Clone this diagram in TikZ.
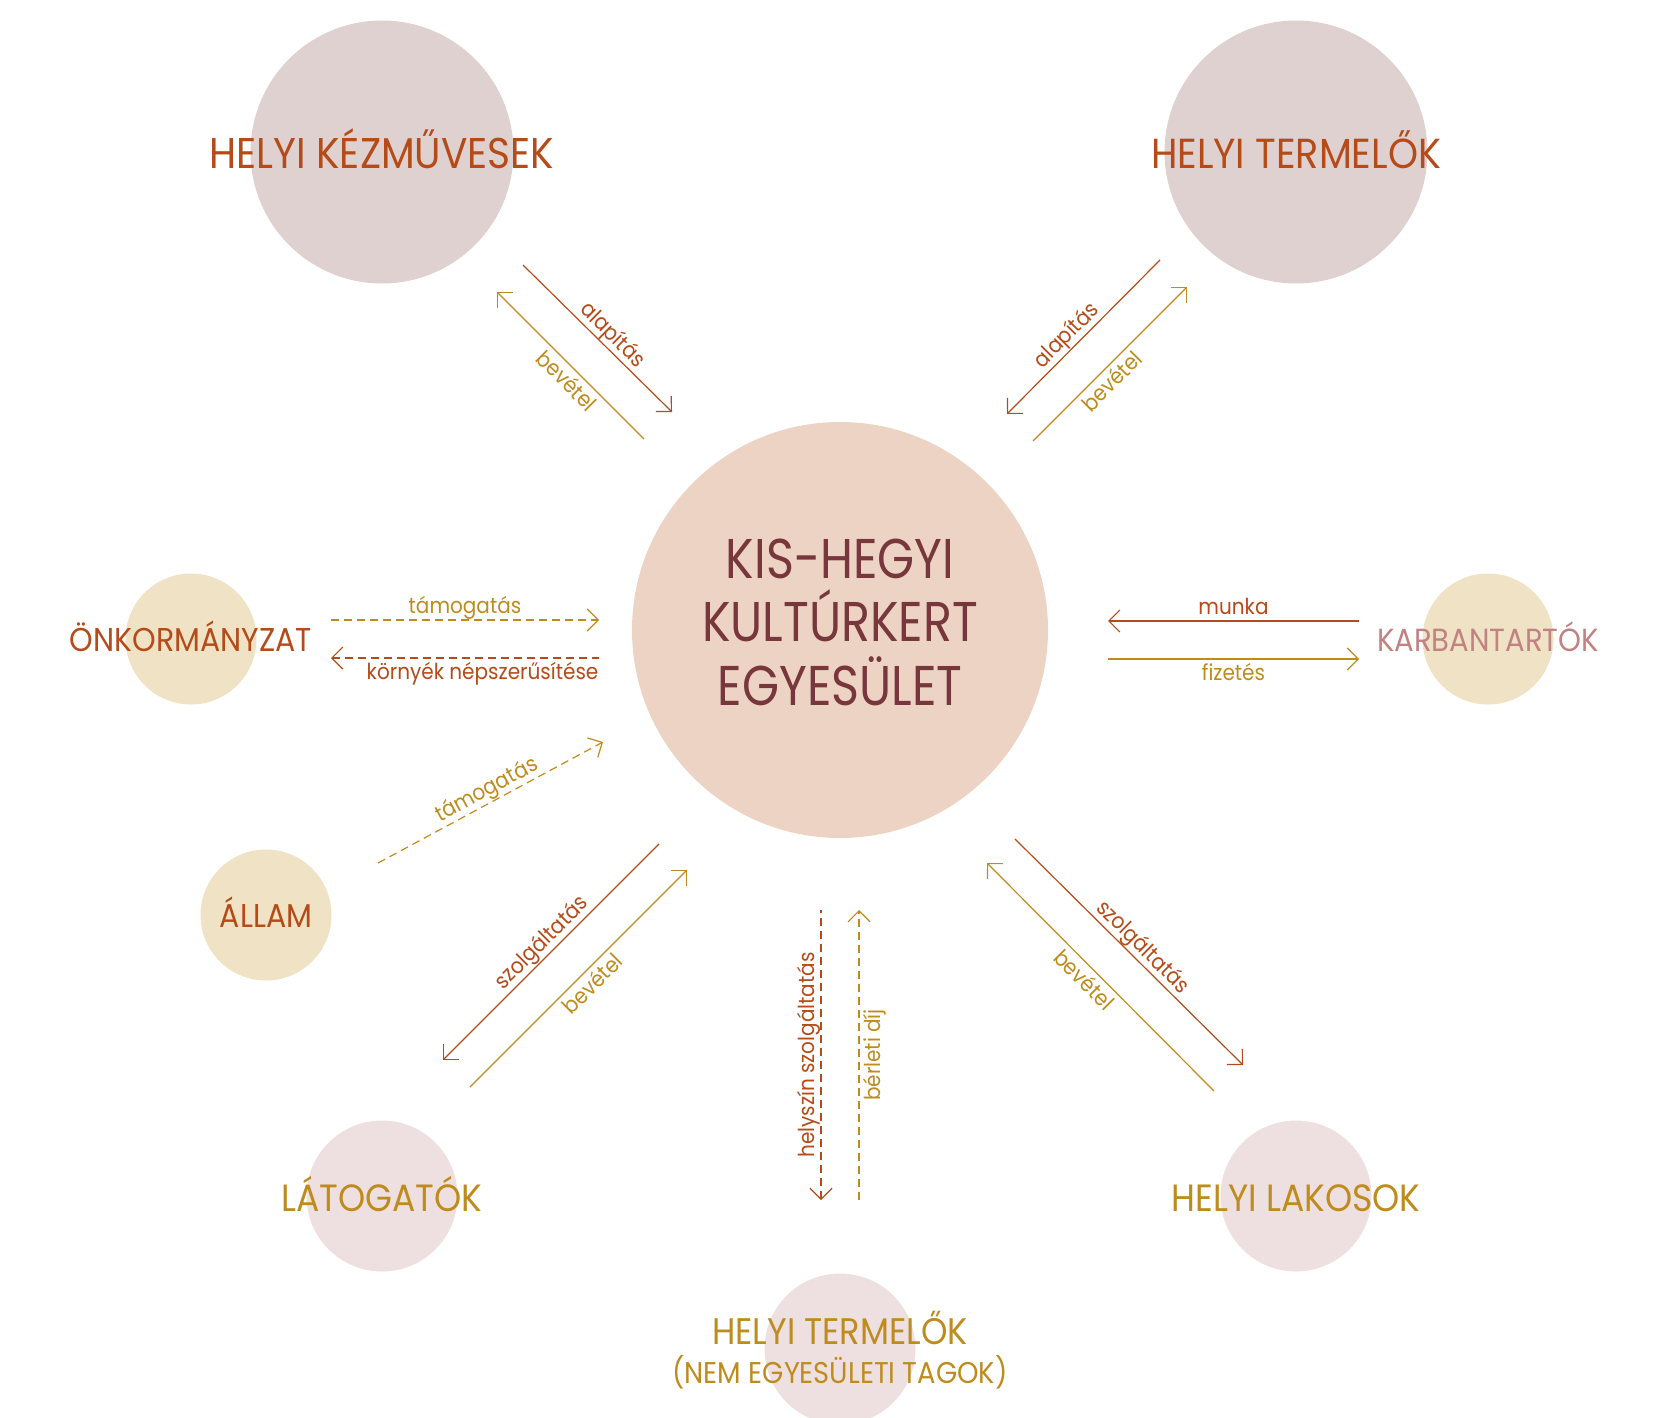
\documentclass[tikz,border=0pt]{standalone}
\usepackage{fontspec}
\setmainfont{Poppins}[FakeStretch=0.91]
\newfontfamily\hubfont{Poppins}[FakeStretch=0.85]
\usetikzlibrary{arrows.meta}
\definecolor{rust}{HTML}{B44B19}
\definecolor{gold}{HTML}{BE8C1E}
\definecolor{rosy}{HTML}{C08282}
\definecolor{maroon}{HTML}{78373C}
\definecolor{mauve}{HTML}{E0D1D1}
\definecolor{peach}{HTML}{ECD3C3}
\definecolor{sand}{HTML}{F0E2C5}
\definecolor{blush}{HTML}{EEE0E0}
\tikzset{
  disc/.style={circle, inner sep=0pt, minimum size=#1},
  title/.style={anchor=base, inner sep=0pt, font=\fontsize{#1}{#1}\selectfont},
  hubtitle/.style={anchor=base, inner sep=0pt, text=maroon, font=\hubfont\fontsize{56}{56}\selectfont},
  flow/.style={line width=1.2pt},
  gap/.style={dash pattern=on 8pt off 5pt},
  tag/.style={inner sep=0pt, text height=15pt, text depth=0pt, font=\fontsize{22}{24}\selectfont}
}
\begin{document}
\begin{tikzpicture}[x=1pt,y=-1pt,>={Straight Barb[length=11pt,width=22pt]}]
\useasboundingbox (0,0) rectangle (1654,1418);
% circles
\node[disc=263pt, fill=mauve] (kez) at (382,152) {};
\node[disc=263pt, fill=mauve] (ter) at (1296,152) {};
\node[disc=416pt, fill=peach] (kert) at (840,630) {};
\node[disc=131pt, fill=sand] (onk) at (191,639) {};
\node[disc=131pt, fill=sand] (allam) at (266,915) {};
\node[disc=131pt, fill=sand] (karb) at (1488,639) {};
\node[disc=151pt, fill=blush] (lat) at (382,1196) {};
\node[disc=151pt, fill=blush] (lak) at (1296,1196) {};
\node[disc=151pt, fill=blush] (nem) at (840,1349) {};
% names
\node[title=43, text=rust] (kez-t) at (382,168) {HELYI KÉZMŰVESEK};
\node[title=42, text=rust] (ter-t) at (1296,168) {HELYI TERMELŐK};
\node[hubtitle] (kert-t1) at (840,578) {KIS-HEGYI};
\node[hubtitle] (kert-t2) at (840,641) {KULTÚRKERT};
\node[hubtitle] (kert-t3) at (840,705) {EGYESÜLET};
\node[title=33, text=rust] (onk-t) at (191,651) {ÖNKORMÁNYZAT};
\node[title=33, text=rust] (allam-t) at (266,927) {ÁLLAM};
\node[title=32, text=rosy] (karb-t) at (1488,651) {KARBANTARTÓK};
\node[title=38, text=gold] (lat-t) at (382,1211) {LÁTOGATÓK};
\node[title=38, text=gold] (lak-t) at (1296,1211) {HELYI LAKOSOK};
\node[title=37, text=gold] (nem-t1) at (840,1344) {HELYI TERMELŐK};
\node[title=30, text=gold] (nem-t2) at (840,1383) {(NEM EGYESÜLETI TAGOK)};
% arrow ends
\coordinate (kez-a1) at (523,265);  \coordinate (kez-a2) at (672,412);
\coordinate (kez-b1) at (497,292);  \coordinate (kez-b2) at (644,439);
\coordinate (ter-a1) at (1007,414); \coordinate (ter-a2) at (1160,260);
\coordinate (ter-b1) at (1033,441); \coordinate (ter-b2) at (1187,287);
\coordinate (onk-a1) at (331,620);  \coordinate (onk-a2) at (599,620);
\coordinate (onk-b1) at (331,658);  \coordinate (onk-b2) at (599,658);
\coordinate (karb-a1) at (1108,621); \coordinate (karb-a2) at (1359,621);
\coordinate (karb-b1) at (1108,659); \coordinate (karb-b2) at (1359,659);
\coordinate (allam-a1) at (378,863); \coordinate (allam-a2) at (603,742);
\coordinate (lat-a1) at (443,1060); \coordinate (lat-a2) at (659,844);
\coordinate (lat-b1) at (470,1087); \coordinate (lat-b2) at (687,870);
\coordinate (nem-a1) at (821,1200); \coordinate (nem-a2) at (821,910);
\coordinate (nem-b1) at (859,1200); \coordinate (nem-b2) at (859,910);
\coordinate (lak-a1) at (1015,839); \coordinate (lak-a2) at (1243,1065);
\coordinate (lak-b1) at (987,863);  \coordinate (lak-b2) at (1214,1091);
% flows
\draw[flow, rust, ->] (kez-a1) -- node[tag, sloped, above=6pt, pos=.54] (l1) {alapítás} (kez-a2);
\draw[flow, gold, <-] (kez-b1) -- node[tag, sloped, below=6pt, pos=.54] (l2) {bevétel} (kez-b2);
\draw[flow, rust, <-] (ter-a1) -- node[tag, sloped, above=6pt, pos=.45] (l3) {alapítás} (ter-a2);
\draw[flow, gold, ->] (ter-b1) -- node[tag, sloped, below=6pt, pos=.45] (l4) {bevétel} (ter-b2);
\draw[flow, gold, gap, ->] (onk-a1) -- node[tag, above=6pt] (l5) {támogatás} (onk-a2);
\draw[flow, rust, gap, <-] (onk-b1) -- node[tag, anchor=north east, yshift=-6pt, pos=1] (l6) {környék népszerűsítése} (onk-b2);
\draw[flow, rust, <-] (karb-a1) -- node[tag, above=6pt] (l7) {munka} (karb-a2);
\draw[flow, gold, ->] (karb-b1) -- node[tag, below=6pt] (l8) {fizetés} (karb-b2);
\draw[flow, gold, gap, ->] (allam-a1) -- node[tag, sloped, above=6pt, pos=.51] (l9) {támogatás} (allam-a2);
\draw[flow, rust, <-] (lat-a1) -- node[tag, sloped, above=6pt, pos=.5] (l10) {szolgáltatás} (lat-a2);
\draw[flow, gold, ->] (lat-b1) -- node[tag, sloped, below=6pt, pos=.52] (l11) {bevétel} (lat-b2);
\draw[flow, rust, gap, <-] (nem-a1) -- node[tag, sloped, above=6pt] (l12) {helyszín szolgáltatás} (nem-a2);
\draw[flow, gold, gap, ->] (nem-b1) -- node[tag, sloped, below=6pt] (l13) {bérleti díj} (nem-b2);
\draw[flow, rust, ->] (lak-a1) -- node[tag, sloped, above=6pt, pos=.52] (l14) {szolgáltatás} (lak-a2);
\draw[flow, gold, <-] (lak-b1) -- node[tag, sloped, below=6pt, pos=.47] (l15) {bevétel} (lak-b2);
\end{tikzpicture}
\end{document}
